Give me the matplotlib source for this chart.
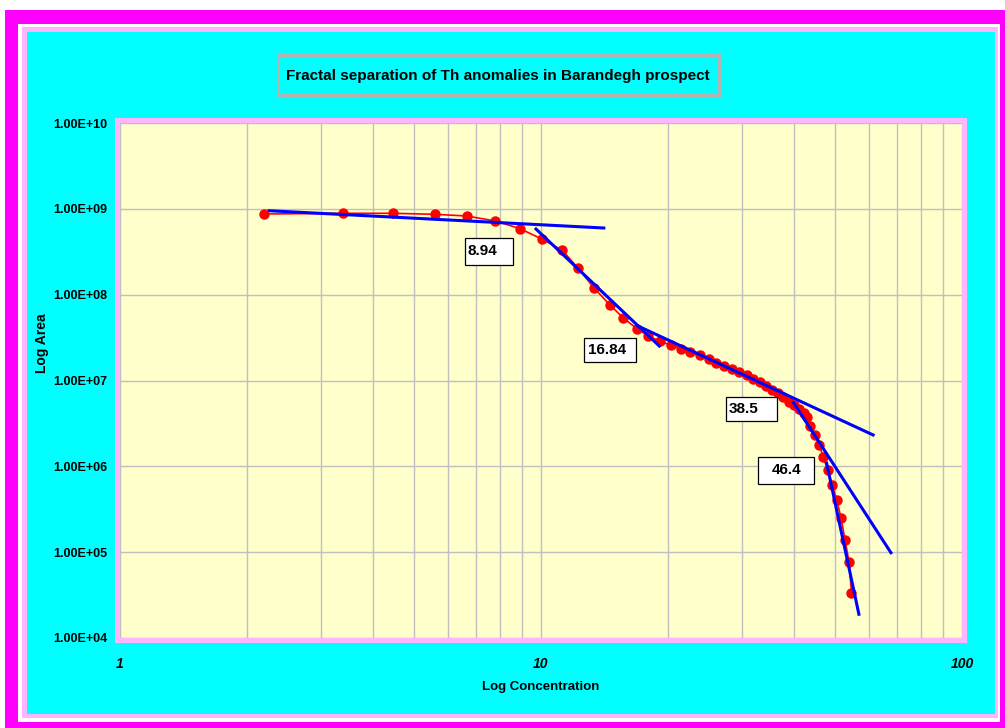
import numpy as np
import matplotlib.pyplot as plt
from matplotlib.patches import Rectangle
from matplotlib.ticker import FuncFormatter, LogLocator, NullFormatter

# concentration (x) and cumulative area (y)
conc = [2.20, 3.38, 4.44, 5.59, 6.66, 7.79, 8.92, 10.04, 11.22, 12.24,
        13.36, 14.58, 15.69, 16.88, 18.00, 19.17, 20.33, 21.49, 22.63, 23.82,
        25.02, 26.09, 27.21, 28.38, 29.58, 30.81, 31.94, 33.13, 34.30, 35.32,
        36.62, 37.63, 38.82, 39.80, 40.90, 42.03, 42.85, 43.55, 44.75, 45.81,
        46.83, 47.97, 49.19, 50.39, 51.59, 52.73, 53.90, 54.64]
area = [8.71e8, 8.87e8, 8.87e8, 8.64e8, 8.25e8, 7.22e8, 5.87e8, 4.45e8, 3.31e8, 2.04e8,
        1.20e8, 7.58e7, 5.35e7, 4.03e7, 3.32e7, 2.85e7, 2.59e7, 2.35e7, 2.15e7, 1.96e7,
        1.79e7, 1.61e7, 1.49e7, 1.36e7, 1.25e7, 1.15e7, 1.055e7, 9.60e6, 8.74e6, 7.85e6,
        7.09e6, 6.39e6, 5.69e6, 5.25e6, 4.65e6, 4.13e6, 3.71e6, 2.95e6, 2.32e6, 1.77e6,
        1.29e6, 9.06e5, 6.06e5, 4.05e5, 2.53e5, 1.39e5, 7.74e4, 3.37e4]

# fitted straight segments (end points)
fit1_x = [2.26, 14.1]
fit1_y = [9.51e8, 5.98e8]
fit2_x = [9.73, 19.1]
fit2_y = [5.82e8, 2.52e7]
fit3_x = [17.0, 61.5]
fit3_y = [4.31e7, 2.32e6]
fit4_x = [39.8, 67.8]
fit4_y = [5.51e6, 9.85e4]
fit5_x = [47.7, 56.9]
fit5_y = [1.085e6, 1.89e4]

thresholds = ['8.94', '16.84', '38.5', '46.4']

W, H = 1005, 728
plt.rcParams['font.family'] = ['Liberation Sans', 'DejaVu Sans']
plt.rcParams['font.weight'] = 'bold'

fig = plt.figure(figsize=(W / 100, H / 100), dpi=100, facecolor='white')


def frame(x0, y0, x1, y1, color, z):
    # rectangle given in pixel coords from the top-left corner
    fig.patches.append(Rectangle((x0 / W, 1 - y1 / H), (x1 - x0) / W, (y1 - y0) / H,
                                 transform=fig.transFigure, facecolor=color,
                                 edgecolor='none', zorder=z))


frame(5, 10, 1005, 728, '#ff00ff', 0)
frame(18, 24, 1000, 722, 'white', 1)
frame(22, 27, 998, 718, '#ffb4ff', 2)
frame(27, 32, 995, 714, '#00ffff', 3)
frame(115, 118, 967, 643, '#ffb4ff', 4)
# title box
frame(277, 54, 721, 97, '#b4b4b4', 4)
frame(280, 57, 718, 94, '#00ffff', 5)
fig.text(498 / W, 1 - 76 / H, 'Fractal separation of Th anomalies in Barandegh prospect',
         ha='center', va='center', fontsize=11, fontweight='bold', zorder=6)

ax = fig.add_axes([120 / W, 1 - 638 / H, 842 / W, 515 / H])
ax.set_zorder(10)
ax.set_facecolor('#ffffcc')
ax.set_xscale('log')
ax.set_yscale('log')
ax.set_xlim(1, 100)
ax.set_ylim(1e4, 1e10)

ax.xaxis.set_major_locator(LogLocator(base=10, numticks=10))
ax.xaxis.set_minor_locator(LogLocator(base=10, subs=np.arange(2, 10), numticks=20))
ax.xaxis.set_minor_formatter(NullFormatter())
ax.xaxis.set_major_formatter(FuncFormatter(lambda v, p: f'{v:g}'))
ax.yaxis.set_major_locator(LogLocator(base=10, numticks=10))
ax.yaxis.set_minor_locator(plt.NullLocator())
ax.yaxis.set_major_formatter(FuncFormatter(lambda v, p: f'{v:.2E}'))

ax.grid(True, which='both', axis='x', color='#c0c0c0', linewidth=1.0)
ax.grid(True, which='major', axis='y', color='#c0c0c0', linewidth=1.0)
ax.set_axisbelow(True)
ax.tick_params(which='both', length=0)
ax.tick_params(axis='y', pad=9, labelsize=9)
ax.tick_params(axis='x', pad=14, labelsize=10)
for lab in ax.get_xticklabels():
    lab.set_fontstyle('italic')
for s in ax.spines.values():
    s.set_visible(False)

ax.plot(conc, area, color='red', linewidth=1.2, marker='o', markersize=6.5,
        markeredgecolor='red', zorder=3)
for fx, fy in [(fit1_x, fit1_y), (fit2_x, fit2_y), (fit3_x, fit3_y),
               (fit4_x, fit4_y), (fit5_x, fit5_y)]:
    ax.plot(fx, fy, color='#0000ff', linewidth=2.2, zorder=4)

# threshold label boxes (axes fraction): x0, y0, w, h, text x, align
boxes = [(0.4097, 0.7252, 0.0570, 0.0515, 0.4133, 'left'),
         (0.5514, 0.5365, 0.0610, 0.0466, 0.5555, 'left'),
         (0.7194, 0.4219, 0.0613, 0.0454, 0.7226, 'left'),
         (0.7581, 0.2990, 0.0665, 0.0530, 0.7914, 'center')]
for lab, (bx, by, bw, bh, tx, al) in zip(thresholds, boxes):
    ax.add_patch(Rectangle((bx, by), bw, bh, transform=ax.transAxes, facecolor='white',
                           edgecolor='black', linewidth=0.9, zorder=5))
    ax.text(tx, by + bh / 2, lab, transform=ax.transAxes, ha=al, va='center',
            fontsize=11, fontweight='bold', zorder=6)

ax.set_xlabel('Log Concentration', fontsize=9.5, fontweight='bold', labelpad=7)
fig.text(42 / W, 1 - 343 / H, 'Log Area', rotation=90, ha='center', va='center',
         fontsize=10, fontweight='bold', zorder=6)

fig.savefig('out.png', dpi=100, facecolor=fig.get_facecolor())
